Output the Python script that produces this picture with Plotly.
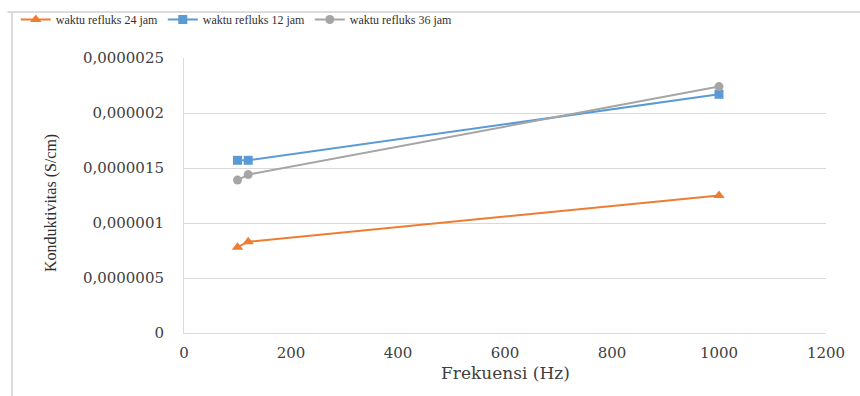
import plotly.graph_objects as go

# Frequency (Hz) and conductivity (S/cm) for each reflux time
frekuensi = [100, 120, 1000]
refluks_24 = [0.00000078, 0.00000083, 0.00000125]
refluks_12 = [0.00000157, 0.00000157, 0.00000217]
refluks_36 = [0.00000139, 0.00000144, 0.00000224]

y_tickvals = [0, 0.0000005, 0.000001, 0.0000015, 0.000002, 0.0000025]
y_ticktext = ["0", "0,0000005", "0,000001", "0,0000015", "0,000002", "0,0000025"]
x_tickvals = [0, 200, 400, 600, 800, 1000, 1200]

FONT = "DejaVu Serif"
SERIF = "Liberation Serif"
TEXT = "#404040"
GRID = "#d9d9d9"

fig = go.Figure()
fig.add_trace(go.Scatter(
    x=frekuensi, y=refluks_24, name="waktu refluks 24 jam", mode="lines+markers",
    line=dict(color="#ED7D31", width=2),
    marker=dict(symbol="triangle-up", size=10, color="#ED7D31")))
fig.add_trace(go.Scatter(
    x=frekuensi, y=refluks_12, name="waktu refluks 12 jam", mode="lines+markers",
    line=dict(color="#5B9BD5", width=2),
    marker=dict(symbol="square", size=9, color="#5B9BD5")))
fig.add_trace(go.Scatter(
    x=frekuensi, y=refluks_36, name="waktu refluks 36 jam", mode="lines+markers",
    line=dict(color="#A5A5A5", width=2),
    marker=dict(symbol="circle", size=9, color="#A5A5A5")))

fig.update_layout(
    width=860, height=396,
    margin=dict(l=184, r=34, t=58, b=63, autoexpand=False),
    paper_bgcolor="white", plot_bgcolor="white",
    font=dict(family=FONT, size=15, color=TEXT),
    showlegend=True,
    legend=dict(orientation="h", x=-0.262, xanchor="left", y=1.14, yanchor="middle",
                font=dict(family=SERIF, size=12, color="#303030"),
                entrywidth=102, itemwidth=30, bgcolor="rgba(0,0,0,0)"),
    xaxis=dict(range=[0, 1200], tickvals=x_tickvals, showgrid=False,
               showline=True, linecolor=GRID, linewidth=1, zeroline=False,
               ticks="", ticklabelstandoff=6,
               tickfont=dict(family=FONT, size=15, color=TEXT)),
    yaxis=dict(range=[0, 0.0000025], tickvals=y_tickvals, ticktext=y_ticktext,
               showgrid=True, gridcolor=GRID, gridwidth=1,
               showline=True, linecolor=GRID, linewidth=1, zeroline=False,
               ticks="", ticklabelstandoff=16,
               tickfont=dict(family=FONT, size=15, color=TEXT)),
    annotations=[
        dict(text="Frekuensi (Hz)", xref="paper", yref="paper", x=0.5, y=-0.145,
             xanchor="center", yanchor="middle", showarrow=False,
             font=dict(family=FONT, size=17, color=TEXT)),
        dict(text="Konduktivitas (S/cm)", xref="paper", yref="paper", x=-0.207, y=0.473,
             xanchor="center", yanchor="middle", showarrow=False, textangle=-90,
             font=dict(family=SERIF, size=16, color="#303030")),
    ],
    shapes=[
        # outer chart frame (top and left edges)
        dict(type="line", xref="paper", yref="paper", x0=-0.275, x1=1.06, y0=1.167, y1=1.167,
             line=dict(color="#d0d0d0", width=1.5)),
        dict(type="line", xref="paper", yref="paper", x0=-0.268, x1=-0.268, y0=1.167, y1=-0.3,
             line=dict(color="#d0d0d0", width=1.5)),
    ],
)

fig.write_html("out.html")
